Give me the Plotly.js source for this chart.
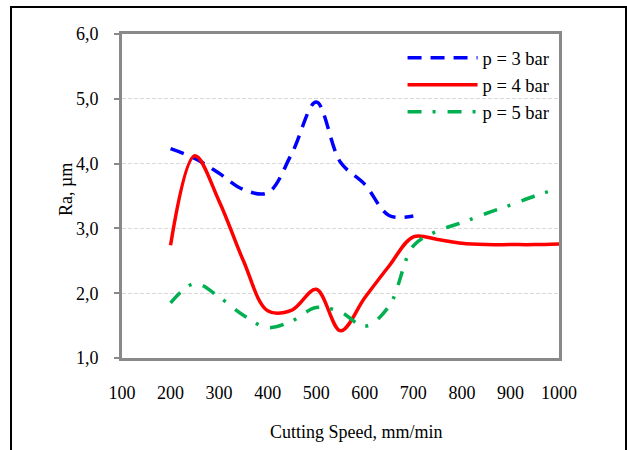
<!DOCTYPE html>
<html>
<head>
<meta charset="utf-8">
<script src="https://cdn.plot.ly/plotly-3.0.1.min.js"></script>
<style>
html,body{margin:0;padding:0;background:#fff;}
#wrap{position:relative;width:627px;height:450px;overflow:hidden;}
#chart{width:627px;height:450px;}
#frame{position:absolute;left:10px;top:6px;width:613px;height:470px;border:2px solid #000;pointer-events:none;}
</style>
</head>
<body>
<div id="wrap"><div id="chart"></div><div id="frame"></div></div>
<script>
// Cutting speed (mm/min)
var speed = [200, 250, 300, 350, 400, 450, 500, 550, 600, 650, 700, 750, 800, 850, 900, 950, 1000];
var speedP3 = [200, 250, 300, 350, 400, 450, 500, 550, 600, 650, 700];
// Ra (µm)
var raP3 = [4.23, 4.08, 3.85, 3.60, 3.55, 4.16, 4.95, 4.02, 3.68, 3.20, 3.19];
var raP4 = [2.74, 4.12, 3.42, 2.50, 1.73, 1.74, 2.06, 1.42, 1.93, 2.42, 2.87, 2.83, 2.77, 2.75, 2.75, 2.75, 2.76];
var raP5 = [1.85, 2.15, 1.94, 1.66, 1.47, 1.57, 1.78, 1.71, 1.49, 1.80, 2.73, 2.96, 3.09, 3.23, 3.36, 3.50, 3.62];
var seriesNames = ['p = 3 bar', 'p = 4 bar', 'p = 5 bar'];
var xTickVals = [100, 200, 300, 400, 500, 600, 700, 800, 900, 1000];
var xTickText = ['100', '200', '300', '400', '500', '600', '700', '800', '900', '1000'];
var yTickVals = [1, 2, 3, 4, 5, 6];
var yTickText = ['1,0', '2,0', '3,0', '4,0', '5,0', '6,0'];
var xTitle = 'Cutting Speed, mm/min';
var yTitle = 'Ra, µm';

var FONT = '"Liberation Serif", "Times New Roman", serif';
var traces = [
  {x: speedP3, y: raP3, name: seriesNames[0], mode: 'lines', line: {color: '#0000FF', width: 3.5, dash: '14px,9px', shape: 'spline', smoothing: 1}},
  {x: speed, y: raP4, name: seriesNames[1], mode: 'lines', line: {color: '#FF0000', width: 3.5, shape: 'spline', smoothing: 1}},
  {x: speed, y: raP5, name: seriesNames[2], mode: 'lines', line: {color: '#00B050', width: 3.5, dash: '14px,11px,3px,12px', shape: 'spline', smoothing: 1}}
];
var layout = {
  width: 627, height: 450,
  margin: {l: 122, r: 68, t: 34, b: 92},
  paper_bgcolor: '#fff', plot_bgcolor: '#fff',
  font: {family: FONT, size: 18, color: '#000'},
  showlegend: true,
  legend: {x: 0.642, y: 0.984, xanchor: 'left', yanchor: 'top', bgcolor: 'rgba(0,0,0,0)', font: {family: FONT, size: 18.5, color: '#000'}, itemwidth: 70, tracegroupgap: 0},
  xaxis: {range: [100, 1000], tickvals: xTickVals, ticktext: xTickText, showgrid: false, zeroline: false,
    showline: true, linecolor: '#898989', linewidth: 3, mirror: true, ticks: '', ticklabelstandoff: 16,
    tickfont: {family: FONT, size: 18, color: '#000'}},
  yaxis: {range: [1, 6], tickvals: yTickVals, ticktext: yTickText, showgrid: true, gridcolor: '#d9d9d9', gridwidth: 1, griddash: '4px,2px',
    zeroline: false, showline: true, linecolor: '#898989', linewidth: 3, mirror: true,
    ticks: 'outside', ticklen: 5, tickwidth: 2, tickcolor: '#898989', ticklabelstandoff: 12,
    tickfont: {family: FONT, size: 18, color: '#000'}},
  annotations: [
    {text: xTitle, xref: 'paper', yref: 'paper', x: 0.537, y: -0.2284, xanchor: 'center', yanchor: 'middle', showarrow: false, font: {family: FONT, size: 18, color: '#000'}},
    {text: yTitle, xref: 'paper', yref: 'paper', x: -0.128, y: 0.5185, xanchor: 'center', yanchor: 'middle', textangle: -90, showarrow: false, font: {family: FONT, size: 18, color: '#000'}}
  ]
};
Plotly.newPlot('chart', traces, layout, {displayModeBar: false, staticPlot: true});
</script>
</body>
</html>
